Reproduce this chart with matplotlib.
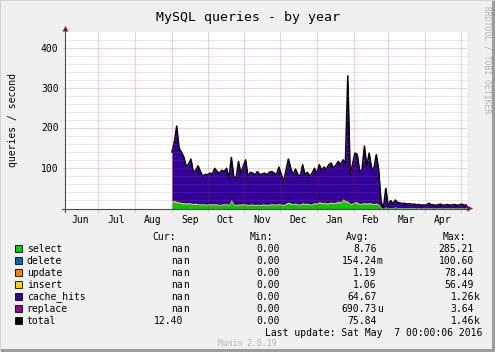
import matplotlib
matplotlib.use("Agg")
import matplotlib.pyplot as plt
from matplotlib.lines import Line2D
from matplotlib.patches import Polygon, Rectangle
import numpy as np
import pandas as pd

# samples every 2 days, Sep 1 2015 .. May 6 2016 (queries / second)
sample_start = "2015-09-01"
total = [140, 165, 205, 150, 140, 128, 105, 110, 123, 90,
         95, 106, 92, 80, 85, 84, 88, 86, 100, 92,
         88, 95, 92, 100, 75, 127, 80, 75, 117, 88,
         105, 121, 80, 90, 88, 84, 92, 84, 86, 88,
         84, 90, 92, 88, 84, 103, 85, 67, 95, 123,
         100, 84, 98, 85, 80, 109, 84, 90, 80, 88,
         100, 88, 109, 95, 103, 98, 109, 113, 100, 108,
         117, 109, 121, 113, 330, 85, 110, 138, 134, 92,
         96, 155, 105, 138, 100, 100, 134, 96, 17, 2,
         50, 5, 20, 12, 21, 15, 14, 12, 13, 11,
         12, 10, 11, 9, 10, 8, 9, 8, 13, 10,
         9, 8, 9, 11, 8, 9, 10, 8, 9, 10,
         8, 9, 11, 8, 9]
select = [14, 16, 14, 13, 12, 12, 11, 12, 11, 10,
          11, 10, 9, 10, 9, 9, 10, 9, 10, 9,
          8, 9, 10, 9, 9, 19, 9, 8, 9, 9,
          10, 9, 8, 9, 9, 8, 9, 8, 9, 9,
          8, 9, 10, 9, 9, 10, 9, 8, 11, 13,
          11, 10, 11, 9, 9, 12, 10, 11, 9, 10,
          12, 11, 14, 12, 13, 11, 12, 13, 12, 13,
          15, 13, 20, 16, 15, 10, 11, 14, 13, 10,
          11, 12, 11, 12, 11, 10, 11, 9, 2, 1,
          3, 1, 2, 2, 3, 2, 2, 2, 2, 2,
          2, 2, 2, 1, 2, 1, 2, 1, 2, 2,
          1, 1, 2, 2, 1, 2, 2, 1, 2, 2,
          1, 2, 2, 1, 2]
update = [2.5, 2.5, 2.2, 2.0, 1.8, 1.6, 1.5, 1.5, 1.4, 1.3,
          1.3, 1.2, 1.2, 1.2, 1.1, 1.1, 1.2, 1.1, 1.2, 1.1,
          1.1, 1.1, 1.2, 1.1, 1.1, 1.5, 1.1, 1.0, 1.1, 1.1,
          1.2, 1.1, 1.0, 1.1, 1.1, 1.0, 1.1, 1.0, 1.1, 1.1,
          1.0, 1.1, 1.2, 1.1, 1.1, 1.2, 1.1, 1.0, 1.3, 1.5,
          1.3, 1.2, 1.3, 1.1, 1.1, 1.4, 1.2, 1.3, 1.1, 1.2,
          1.4, 1.3, 1.6, 1.4, 1.5, 1.3, 1.4, 1.5, 1.4, 1.5,
          1.7, 1.5, 2.2, 1.8, 1.8, 1.2, 1.3, 1.6, 1.5, 1.2,
          1.3, 1.4, 1.3, 1.4, 1.3, 1.2, 1.3, 1.1, 0.4, 0.2,
          0.5, 0.2, 0.3, 0.3, 0.4, 0.3, 0.3, 0.3, 0.3, 0.3,
          0.3, 0.3, 0.3, 0.2, 0.3, 0.2, 0.3, 0.2, 0.3, 0.3,
          0.2, 0.2, 0.3, 0.3, 0.2, 0.3, 0.3, 0.2, 0.3, 0.3,
          0.2, 0.3, 0.3, 0.2, 0.3]
insert = [1.5, 1.6, 1.4, 1.3, 1.2, 1.1, 1.0, 1.1, 1.0, 1.0,
          1.0, 1.0, 0.9, 1.0, 0.9, 0.9, 1.0, 0.9, 1.0, 0.9,
          0.9, 0.9, 1.0, 0.9, 0.9, 1.2, 0.9, 0.8, 0.9, 0.9,
          1.0, 0.9, 0.8, 0.9, 0.9, 0.8, 0.9, 0.8, 0.9, 0.9,
          0.8, 0.9, 1.0, 0.9, 0.9, 1.0, 0.9, 0.8, 1.1, 1.3,
          1.1, 1.0, 1.1, 0.9, 0.9, 1.2, 1.0, 1.1, 0.9, 1.0,
          1.2, 1.1, 1.4, 1.2, 1.3, 1.1, 1.2, 1.3, 1.2, 1.3,
          1.5, 1.3, 1.9, 1.5, 1.5, 1.0, 1.1, 1.4, 1.3, 1.0,
          1.1, 1.2, 1.1, 1.2, 1.1, 1.0, 1.1, 0.9, 0.3, 0.1,
          0.4, 0.1, 0.2, 0.2, 0.3, 0.2, 0.2, 0.2, 0.2, 0.2,
          0.2, 0.2, 0.2, 0.1, 0.2, 0.1, 0.2, 0.1, 0.2, 0.2,
          0.1, 0.1, 0.2, 0.2, 0.1, 0.2, 0.2, 0.1, 0.2, 0.2,
          0.1, 0.2, 0.2, 0.1, 0.2]

months = ["Jun", "Jul", "Aug", "Sep", "Oct", "Nov", "Dec", "Jan", "Feb", "Mar", "Apr"]
month_starts = ["2015-07-01", "2015-08-01", "2015-09-01", "2015-10-01", "2015-11-01",
                "2015-12-01", "2016-01-01", "2016-02-01", "2016-03-01", "2016-04-01",
                "2016-05-01"]
month_labels_at = ["2015-06-16", "2015-07-16", "2015-08-16", "2015-09-16", "2015-10-16",
                   "2015-11-16", "2015-12-16", "2016-01-16", "2016-02-15", "2016-03-16",
                   "2016-04-16"]
x_range = ["2015-06-03", "2016-05-06 08:00"]
y_ticks = [100, 200, 300, 400]

legend_names = ["select", "delete", "update", "insert", "cache_hits", "replace", "total"]
legend_colors = ["#00CC00", "#0066B3", "#FF8000", "#FFCC00", "#330099", "#990099", "#000000"]
cur_vals = ["nan", "nan", "nan", "nan", "nan", "nan", "12.40"]
min_vals = ["0.00"] * 7
avg_vals = ["8.76", "154.24m", "1.19", "1.06", "64.67", "690.73u", "75.84"]
max_vals = ["285.21", "100.60", "78.44", "56.49", "1.26k", "3.64", "1.46k"]

W, H = 495, 352
MONO = "DejaVu Sans Mono"


def fx(x):
    return x / W


def fy(y):
    return 1 - y / H


fig = plt.figure(figsize=(W / 100, H / 100), dpi=100, facecolor="#F0F0F0")

# frame shading
fig.add_artist(Rectangle((0, fy(352)), 1, 3 / H, transform=fig.transFigure, color="#9c9c9c", lw=0))
fig.add_artist(Rectangle((fx(492), 0), 3 / W, 1, transform=fig.transFigure, color="#9c9c9c", lw=0))
fig.add_artist(Rectangle((0, fy(1)), 1, 1 / H, transform=fig.transFigure, color="#d4d4d4", lw=0))
fig.add_artist(Rectangle((0, 0), 1 / W, 1, transform=fig.transFigure, color="#d4d4d4", lw=0))

ax = fig.add_axes([fx(65), fy(208.5), fx(467) - fx(65), fy(32) - fy(208.5)])
ax.set_facecolor("white")
for s in ax.spines.values():
    s.set_visible(False)

dates = pd.date_range(sample_start, periods=len(total), freq="2D")
tot = np.array(total, float)
sel = np.array(select, float)
upd = sel + np.array(update, float)
ins = upd + np.array(insert, float)

ax.fill_between(dates, 0, sel, color="#00CC00", lw=0, zorder=2)
ax.fill_between(dates, sel, upd, color="#FF8000", lw=0, zorder=2)
ax.fill_between(dates, upd, ins, color="#FFCC00", lw=0, zorder=2)
ax.fill_between(dates, ins, tot, color="#330099", lw=0, zorder=2)
ax.plot(dates, tot, color="black", lw=1.1, zorder=4)

x0, x1 = pd.Timestamp(x_range[0]), pd.Timestamp(x_range[1])
ax.set_xlim(x0, x1)
ax.set_ylim(0, 439)
ax.set_xticks([])
ax.set_yticks([])

# grid on top, translucent like rrdtool
red_a, grey_a = 0.2, 0.18
for v in range(20, 440, 20):
    if v % 100:
        ax.axhline(v, color="#808080", alpha=grey_a, lw=0.75, zorder=5)
for v in y_ticks:
    ax.axhline(v, color="#FF0000", alpha=red_a, lw=0.75, zorder=5)
for d in month_starts:
    ax.axvline(pd.Timestamp(d), color="#FF0000", alpha=red_a, lw=0.75, zorder=5)
    ax.plot([pd.Timestamp(d)] * 2, [0, -8], color="#FF0000", alpha=red_a, lw=0.75,
            clip_on=False, zorder=5)
for v in y_ticks:
    ax.plot([x0 - pd.Timedelta(days=2), x0], [v, v], color="#FF0000", alpha=red_a,
            lw=0.75, clip_on=False, zorder=5)

# axes lines and arrows
axis_col = "#4a4a4a"
fig.add_artist(Line2D([fx(65), fx(65)], [fy(212), fy(30)], transform=fig.transFigure,
                      color=axis_col, lw=0.8))
fig.add_artist(Line2D([fx(62), fx(468)], [fy(208.5), fy(208.5)], transform=fig.transFigure,
                      color=axis_col, lw=0.8))
fig.add_artist(Polygon([[fx(62.5), fy(31.5)], [fx(68.5), fy(31.5)], [fx(65.5), fy(26)]],
                       transform=fig.transFigure, color="#8b1a1a", lw=0))
fig.add_artist(Polygon([[fx(467), fy(205.5)], [fx(467), fy(211.5)], [fx(473), fy(208.5)]],
                       transform=fig.transFigure, color="#8b1a1a", lw=0))

# tick labels
for v in y_ticks:
    fig.text(fx(58.5), fy(208.5 - v * 0.4), str(v), ha="right", va="center",
             family=MONO, fontsize=7, color="black")
for m, d in zip(months, month_labels_at):
    ax.text(pd.Timestamp(d), -28, m, ha="center", va="center", family=MONO,
            fontsize=7, color="black", clip_on=False)

fig.text(0.5, fy(17), "MySQL queries - by year", ha="center", va="center",
         family=MONO, fontsize=9.5)
fig.text(fx(13.5), fy(120), "queries / second", rotation=90, ha="center", va="center",
         family=MONO, fontsize=7)
fig.text(fx(486.5), fy(6.5), "RRDTOOL / TOBI OETIKER", rotation=270, ha="center", va="top",
         family=MONO, fontsize=5.8, color="#b4b4b4")

# legend block
hdr_y = 237
fig.text(fx(175.7), fy(hdr_y), "Cur:", ha="right", va="center", family=MONO, fontsize=7)
fig.text(fx(272.7), fy(hdr_y), "Min:", ha="right", va="center", family=MONO, fontsize=7)
fig.text(fx(369), fy(hdr_y), "Avg:", ha="right", va="center", family=MONO, fontsize=7)
fig.text(fx(466), fy(hdr_y), "Max:", ha="right", va="center", family=MONO, fontsize=7)


def put_value(xr, y, s):
    num, suf = (s[:-1], s[-1]) if s[-1].isalpha() else (s, "")
    fig.text(fx(xr), fy(y), num, ha="right", va="center", family=MONO, fontsize=7)
    if suf:
        fig.text(fx(xr), fy(y), suf, ha="left", va="center", family=MONO, fontsize=7)


for k, name in enumerate(legend_names):
    y = 248.7 + 12 * k
    fig.add_artist(Rectangle((fx(14.5), fy(y + 3.5)), 7 / W, 7 / H, transform=fig.transFigure,
                             facecolor=legend_colors[k], edgecolor="black", lw=0.6))
    fig.text(fx(26.7), fy(y), name, ha="left", va="center", family=MONO, fontsize=7)
    put_value(183, y, cur_vals[k])
    put_value(280, y, min_vals[k])
    put_value(376.7, y, avg_vals[k])
    put_value(474, y, max_vals[k])

fig.text(fx(482), fy(332.7), "Last update: Sat May  7 00:00:06 2016", ha="right", va="center",
         family=MONO, fontsize=7)
fig.text(0.5, fy(343), "Munin 2.0.19", ha="center", va="center", family=MONO,
         fontsize=5.8, color="#b4b4b4")

fig.savefig("out.png", dpi=100, facecolor=fig.get_facecolor())
